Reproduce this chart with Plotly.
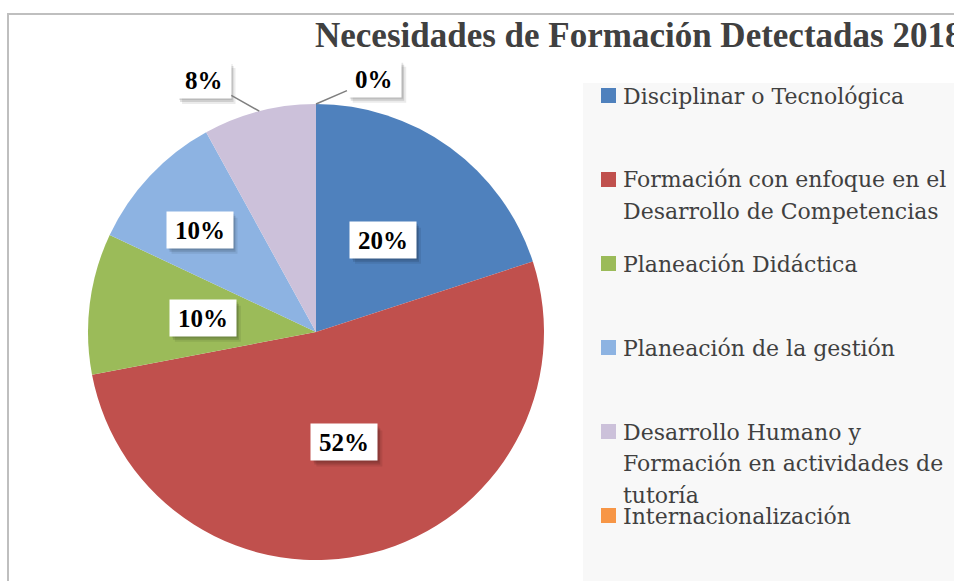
import math
import plotly.graph_objects as go

# ---- data ----
categories = [
    "Disciplinar o Tecnológica",
    "Formación con enfoque en el<br>Desarrollo de Competencias",
    "Planeación Didáctica",
    "Planeación de la gestión",
    "Desarrollo Humano y<br>Formación en actividades de<br>tutoría",
    "Internacionalización",
]
values = [10, 26, 5, 5, 4, 0]
colors = ["#4F81BD", "#C0504D", "#9BBB59", "#8DB3E2", "#CCC1DA", "#F79646"]
title_text = "Necesidades de Formación Detectadas 2018"

# ---- layout constants ----
W, H = 954, 581
CX, CY, R = 316, 332, 228           # pie centre / radius in pixels
# label placement: (radius factor, angle offset in degrees)
label_place = [(0.5, 0), (0.5, 0), (0.5, 0), (0.68, -1.9), (1.21, -9.6), (1.14, 13.0)]
PAD, BOX_H = 8, 20

def px(x):
    return x / W

def py(y):
    return 1 - y / H

fig = go.Figure()
fig.add_trace(go.Pie(
    labels=categories,
    values=values,
    marker=dict(colors=colors, line=dict(width=0)),
    sort=False,
    direction="clockwise",
    rotation=0,
    textinfo="none",
    hoverinfo="label+percent",
    showlegend=False,
    domain=dict(x=[px(CX - R), px(CX + R)], y=[py(CY + R), py(CY - R)]),
))

total = sum(values)
annotations = []
shapes = []
label_font = dict(family="Liberation Serif", size=25, color="black")

cum = 0.0
for v, (rf, dth) in zip(values, label_place):
    frac = v / total
    mid = (cum + frac / 2) * 360.0
    cum += frac
    pct = f"{round(frac * 100):d}%"
    txt = f"<b>{pct}</b>"
    ang = math.radians(mid + dth)
    lx = CX + rf * R * math.sin(ang)
    ly = CY - rf * R * math.cos(ang)
    width = 12.5 * (len(pct) - 1) + 25
    bw, bh = width + 2 * PAD, BOX_H + 2 * PAD
    # soft drop shadow behind the label box
    for (ox, oy, a) in [(5, 6, 0.08), (3, 4, 0.12), (2, 2, 0.10)]:
        shapes.append(dict(
            type="rect", xref="paper", yref="paper", layer="above",
            x0=px(lx - bw / 2 + ox), x1=px(lx + bw / 2 + ox),
            y0=py(ly + bh / 2 + oy), y1=py(ly - bh / 2 + oy),
            fillcolor=f"rgba(0,0,0,{a})", line=dict(width=0),
        ))
    if rf > 1:
        am = math.radians(mid)
        tx = CX + R * math.sin(am)
        ty = CY - R * math.cos(am)
        annotations.append(dict(
            x=px(tx), y=py(ty), xref="paper", yref="paper", text=txt,
            showarrow=True, arrowhead=0, arrowwidth=1.5, arrowcolor="#7F7F7F",
            axref="pixel", ayref="pixel", ax=lx - tx, ay=ly - ty,
            font=label_font, bgcolor="white", borderpad=PAD, height=BOX_H, width=width,
        ))
    else:
        annotations.append(dict(
            x=px(lx), y=py(ly), xref="paper", yref="paper", text=txt,
            xanchor="center", yanchor="middle",
            showarrow=False, font=label_font, bgcolor="white",
            borderpad=PAD, height=BOX_H, width=width,
        ))

# ---- title ----
annotations.append(dict(
    x=px(313), y=py(36), xref="paper", yref="paper", xanchor="left", yanchor="middle",
    text=f"<b>{title_text}</b>", showarrow=False,
    font=dict(family="Liberation Serif", size=35, color="#404040"),
))

# ---- custom legend ----
shapes += [
    dict(type="rect", xref="paper", yref="paper", x0=px(583), x1=px(970), y0=py(83), y1=py(600),
         fillcolor="#F8F8F8", line=dict(width=0), layer="below"),
    dict(type="rect", xref="paper", yref="paper", x0=px(8), x1=px(980), y0=py(14), y1=py(600),
         fillcolor="rgba(0,0,0,0)", line=dict(color="#BFBFBF", width=2), layer="above"),
]
LEG_TOP, LEG_STEP, LINE_STEP = 88, 84, 31.5
for i, (cat, col) in enumerate(zip(categories, colors)):
    top = LEG_TOP + LEG_STEP * i
    shapes.append(dict(type="rect", xref="paper", yref="paper",
                       x0=px(601), x1=px(616), y0=py(top), y1=py(top + 15),
                       fillcolor=col, line=dict(width=0)))
    for j, line in enumerate(cat.split("<br>")):
        annotations.append(dict(
            x=px(621), y=py(top + 8 + j * LINE_STEP), xref="paper", yref="paper",
            xanchor="left", yanchor="middle", text=line, showarrow=False,
            font=dict(family="DejaVu Serif", size=22, color="#404040"),
        ))

fig.update_layout(
    width=W, height=H,
    margin=dict(l=0, r=0, t=0, b=0),
    paper_bgcolor="white", plot_bgcolor="white",
    annotations=annotations, shapes=shapes,
)

fig.write_html(
    "out.html",
    config={"displayModeBar": False},
    post_script="document.body.style.margin='0px';document.body.style.overflow='hidden';",
)
